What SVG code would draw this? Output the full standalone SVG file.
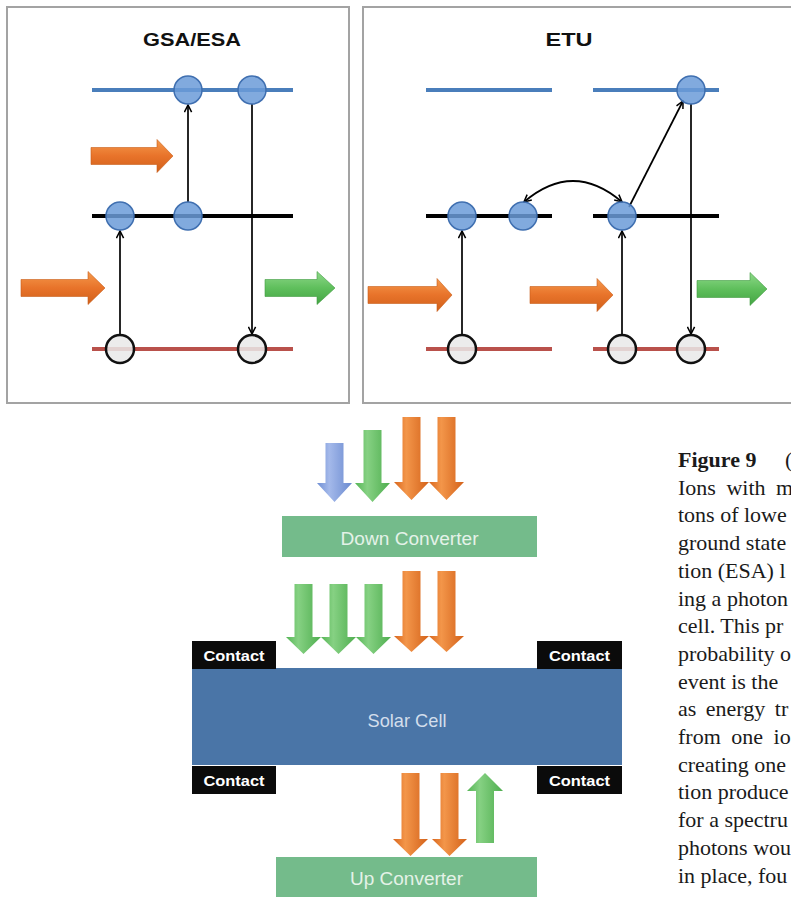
<svg xmlns="http://www.w3.org/2000/svg" width="791" height="897" viewBox="0 0 791 897">
  <defs>
    <style>
      .panel { fill: #ffffff; stroke: #a3a3a3; stroke-width: 2; }
      .title { font-family: "Liberation Sans", Arial, sans-serif; font-weight: bold; font-size: 19px; fill: #111; text-anchor: middle; }
      .lvl-blue { stroke: #4a7ebb; stroke-width: 4; }
      .lvl-black { stroke: #000; stroke-width: 4; }
      .lvl-red { stroke: #b9514b; stroke-width: 4; }
      .ion { fill: #6b9bd8; fill-opacity: 0.85; stroke: #3f6fb0; stroke-width: 1.5; }
      .gnd { fill: #e9e9e9; fill-opacity: 0.85; stroke: #111; stroke-width: 2.5; }
      .conn { fill: none; stroke: #000; stroke-width: 1.7; }
      .orange-h { fill: url(#gOrangeH); stroke: #c85d18; stroke-width: 0.6; }
      .green-h { fill: url(#gGreenH); stroke: #3f9a3f; stroke-width: 0.6; }
      .orange-v { fill: url(#gOrangeV); }
      .green-v { fill: url(#gGreenV); }
      .blue-v { fill: url(#gBlueV); }
      .contact rect { fill: #0b0b0b; }
      .contact text { font-family: "Liberation Sans", Arial, sans-serif; font-weight: bold; font-size: 15px; fill: #fff; text-anchor: middle; }
      .conv rect { fill: #74bb8b; }
      .conv text, .cell text { font-family: "Liberation Sans", Arial, sans-serif; font-size: 18px; fill: #e4f2e8; text-anchor: middle; }
      .cell rect { fill: #4a75a7; }
      .cell text { fill: #d3deec; font-size: 19px; }
      .caption { font-family: "Liberation Serif", "Times New Roman", serif; font-size: 22px; fill: #1a1a1a; }
    </style>
    <linearGradient id="gOrangeH" x1="0" y1="0" x2="0" y2="1">
      <stop offset="0" stop-color="#f59a4c"/>
      <stop offset="0.5" stop-color="#e8732a"/>
      <stop offset="1" stop-color="#d0601a"/>
    </linearGradient>
    <linearGradient id="gGreenH" x1="0" y1="0" x2="0" y2="1">
      <stop offset="0" stop-color="#8fd98a"/>
      <stop offset="0.5" stop-color="#5fbf5c"/>
      <stop offset="1" stop-color="#43a443"/>
    </linearGradient>
    <linearGradient id="gOrangeV" x1="0" y1="0" x2="1" y2="0">
      <stop offset="0" stop-color="#d9661d"/>
      <stop offset="0.35" stop-color="#f3964a"/>
      <stop offset="1" stop-color="#d4621a"/>
    </linearGradient>
    <linearGradient id="gGreenV" x1="0" y1="0" x2="1" y2="0">
      <stop offset="0" stop-color="#55b555"/>
      <stop offset="0.35" stop-color="#86d183"/>
      <stop offset="1" stop-color="#4fae4f"/>
    </linearGradient>
    <linearGradient id="gBlueV" x1="0" y1="0" x2="1" y2="0">
      <stop offset="0" stop-color="#6f8fd4"/>
      <stop offset="0.35" stop-color="#a4b9ea"/>
      <stop offset="1" stop-color="#6a8ad0"/>
    </linearGradient>
    <marker id="head" viewBox="0 0 10 10" refX="9" refY="5" markerWidth="9" markerHeight="9" markerUnits="userSpaceOnUse" orient="auto-start-reverse">
      <path d="M1,1 L9,5 L1,9" fill="none" stroke="#000" stroke-width="1.7"/>
    </marker>
  </defs>

  <!-- GSA/ESA panel -->
  <g id="panel-gsa-esa">
    <rect class="panel" x="7" y="7" width="342" height="396"/>
    <text class="title" x="192" y="46" textLength="98" lengthAdjust="spacingAndGlyphs">GSA/ESA</text>
    <line class="lvl-blue" x1="92" y1="90" x2="293" y2="90"/>
    <line class="lvl-black" x1="92" y1="216" x2="293" y2="216"/>
    <line class="lvl-red" x1="92" y1="349" x2="293" y2="349"/>
    <path class="orange-h" d="M91,147.5 H157 V139.5 L173,156 L157,172.5 V164.5 H91 Z"/>
    <path class="orange-h" d="M21,279.5 H88 V271.5 L105,288 L88,304.5 V296.5 H21 Z"/>
    <path class="green-h" d="M265,279.5 H317 V271.5 L335,288 L317,304.5 V296.5 H265 Z"/>
  </g>

  <!-- ETU panel -->
  <g id="panel-etu">
    <rect class="panel" x="363" y="7" width="440" height="396"/>
    <text class="title" x="569" y="46" textLength="47" lengthAdjust="spacingAndGlyphs">ETU</text>
    <line class="lvl-blue" x1="426" y1="90" x2="552" y2="90"/>
    <line class="lvl-blue" x1="593" y1="90" x2="719" y2="90"/>
    <line class="lvl-black" x1="426" y1="216" x2="552" y2="216"/>
    <line class="lvl-black" x1="593" y1="216" x2="719" y2="216"/>
    <line class="lvl-red" x1="426" y1="349" x2="552" y2="349"/>
    <line class="lvl-red" x1="593" y1="349" x2="719" y2="349"/>
    <path class="orange-h" d="M368,286.5 H437 V278.5 L452,295 L437,311.5 V303.5 H368 Z"/>
    <path class="orange-h" d="M530,286.5 H597 V278.5 L613,295 L597,311.5 V303.5 H530 Z"/>
    <path class="green-h" d="M697,280.5 H750 V272.5 L767,289 L750,305.5 V297.5 H697 Z"/>
  </g>

  <!-- transitions between levels -->
  <g id="connectors">
    <line class="conn" x1="120" y1="335" x2="120" y2="231" marker-end="url(#head)"/>
    <line class="conn" x1="188" y1="202" x2="188" y2="105" marker-end="url(#head)"/>
    <line class="conn" x1="252" y1="104" x2="252" y2="334" marker-end="url(#head)"/>
    <line class="conn" x1="462" y1="335" x2="462" y2="231" marker-end="url(#head)"/>
    <line class="conn" x1="622" y1="335" x2="622" y2="231" marker-end="url(#head)"/>
    <line class="conn" x1="691" y1="104" x2="691" y2="334" marker-end="url(#head)"/>
    <line class="conn" x1="629" y1="207" x2="683" y2="101" marker-end="url(#head)"/>
    <path class="conn" d="M524,202 Q573,160 622,202" marker-start="url(#head)" marker-end="url(#head)"/>
  </g>

  <!-- ions on their levels -->
  <g id="ions">
    <circle class="ion" cx="188" cy="90" r="14"/>
    <circle class="ion" cx="252" cy="90" r="14"/>
    <circle class="ion" cx="120" cy="216" r="14"/>
    <circle class="ion" cx="188" cy="216" r="14"/>
    <circle class="gnd" cx="120" cy="349" r="14"/>
    <circle class="gnd" cx="252" cy="349" r="14"/>
    <circle class="ion" cx="691" cy="90" r="14"/>
    <circle class="ion" cx="462" cy="216" r="14"/>
    <circle class="ion" cx="523" cy="216" r="14"/>
    <circle class="ion" cx="622" cy="216" r="14"/>
    <circle class="gnd" cx="462" cy="349" r="14"/>
    <circle class="gnd" cx="622" cy="349" r="14"/>
    <circle class="gnd" cx="691" cy="349" r="14"/>
  </g>

  <!-- incident light -->
  <g id="incident-light">
    <path class="blue-v" d="M325.5,443 H343.5 V483 H352 L334.5,502 L317,483 H325.5 Z"/>
    <path class="green-v" d="M363.5,430 H381.5 V483 H390 L372.5,502 L355,483 H363.5 Z"/>
    <path class="orange-v" d="M402.5,417 H420.5 V482 H429 L411.5,500 L394,482 H402.5 Z"/>
    <path class="orange-v" d="M437.5,417 H455.5 V482 H464 L446.5,500 L429,482 H437.5 Z"/>
  </g>

  <g id="down-converter" class="conv">
    <rect x="282" y="516" width="255" height="41"/>
    <text x="409.5" y="545" textLength="138" lengthAdjust="spacingAndGlyphs">Down Converter</text>
  </g>

  <g id="converted-light">
    <path class="green-v" d="M294.5,584 H312.5 V637 H321 L303.5,654 L286,637 H294.5 Z"/>
    <path class="green-v" d="M329.5,584 H347.5 V637 H356 L338.5,654 L321,637 H329.5 Z"/>
    <path class="green-v" d="M364.5,584 H382.5 V637 H391 L373.5,654 L356,637 H364.5 Z"/>
    <path class="orange-v" d="M402.5,571 H420.5 V636 H429 L411.5,652 L394,636 H402.5 Z"/>
    <path class="orange-v" d="M437.5,571 H455.5 V636 H464 L446.5,652 L429,636 H437.5 Z"/>
  </g>

  <g id="solar-cell" class="cell">
    <rect x="192" y="668" width="430" height="97"/>
    <text x="407" y="727" textLength="79" lengthAdjust="spacingAndGlyphs">Solar Cell</text>
  </g>

  <g id="contact-top-left" class="contact">
    <rect x="192" y="641" width="84" height="28"/>
    <text x="234" y="661" textLength="61" lengthAdjust="spacingAndGlyphs">Contact</text>
  </g>
  <g id="contact-top-right" class="contact">
    <rect x="537" y="641" width="85" height="28"/>
    <text x="579.5" y="661" textLength="61" lengthAdjust="spacingAndGlyphs">Contact</text>
  </g>
  <g id="contact-bottom-left" class="contact">
    <rect x="192" y="766" width="84" height="28"/>
    <text x="234" y="786" textLength="61" lengthAdjust="spacingAndGlyphs">Contact</text>
  </g>
  <g id="contact-bottom-right" class="contact">
    <rect x="537" y="766" width="85" height="28"/>
    <text x="579.5" y="786" textLength="61" lengthAdjust="spacingAndGlyphs">Contact</text>
  </g>

  <g id="transmitted-light">
    <path class="orange-v" d="M401.5,773 H419.5 V839 H428 L410.5,856 L393,839 H401.5 Z"/>
    <path class="orange-v" d="M440.5,773 H458.5 V839 H467 L449.5,856 L432,839 H440.5 Z"/>
    <path class="green-v" d="M476,843 H494 V791 H503 L485,773 L467,791 H476 Z"/>
  </g>

  <g id="up-converter" class="conv">
    <rect x="276" y="857" width="261" height="45"/>
    <text x="406.5" y="885" textLength="113" lengthAdjust="spacingAndGlyphs">Up Converter</text>
  </g>

  <!-- caption column, clipped by the right edge -->
  <g id="caption" class="caption">
    <text x="678" y="467"><tspan font-weight="bold">Figure 9</tspan><tspan x="785">(</tspan></text>
    <text x="678" y="494.7" word-spacing="5">Ions with m</text>
    <text x="678" y="522.4">tons of lowe</text>
    <text x="678" y="550.1">ground state</text>
    <text x="678" y="577.8">tion (ESA) l</text>
    <text x="678" y="605.5">ing a photon</text>
    <text x="678" y="633.2">cell. This pr</text>
    <text x="678" y="660.9">probability o</text>
    <text x="678" y="688.6">event is the</text>
    <text x="678" y="716.3" word-spacing="4">as energy tr</text>
    <text x="678" y="744" word-spacing="5">from one io</text>
    <text x="678" y="771.7">creating one</text>
    <text x="678" y="799.4">tion produce</text>
    <text x="678" y="827.1">for a spectru</text>
    <text x="678" y="854.8">photons wou</text>
    <text x="678" y="882.5">in place, fou</text>
  </g>
</svg>
